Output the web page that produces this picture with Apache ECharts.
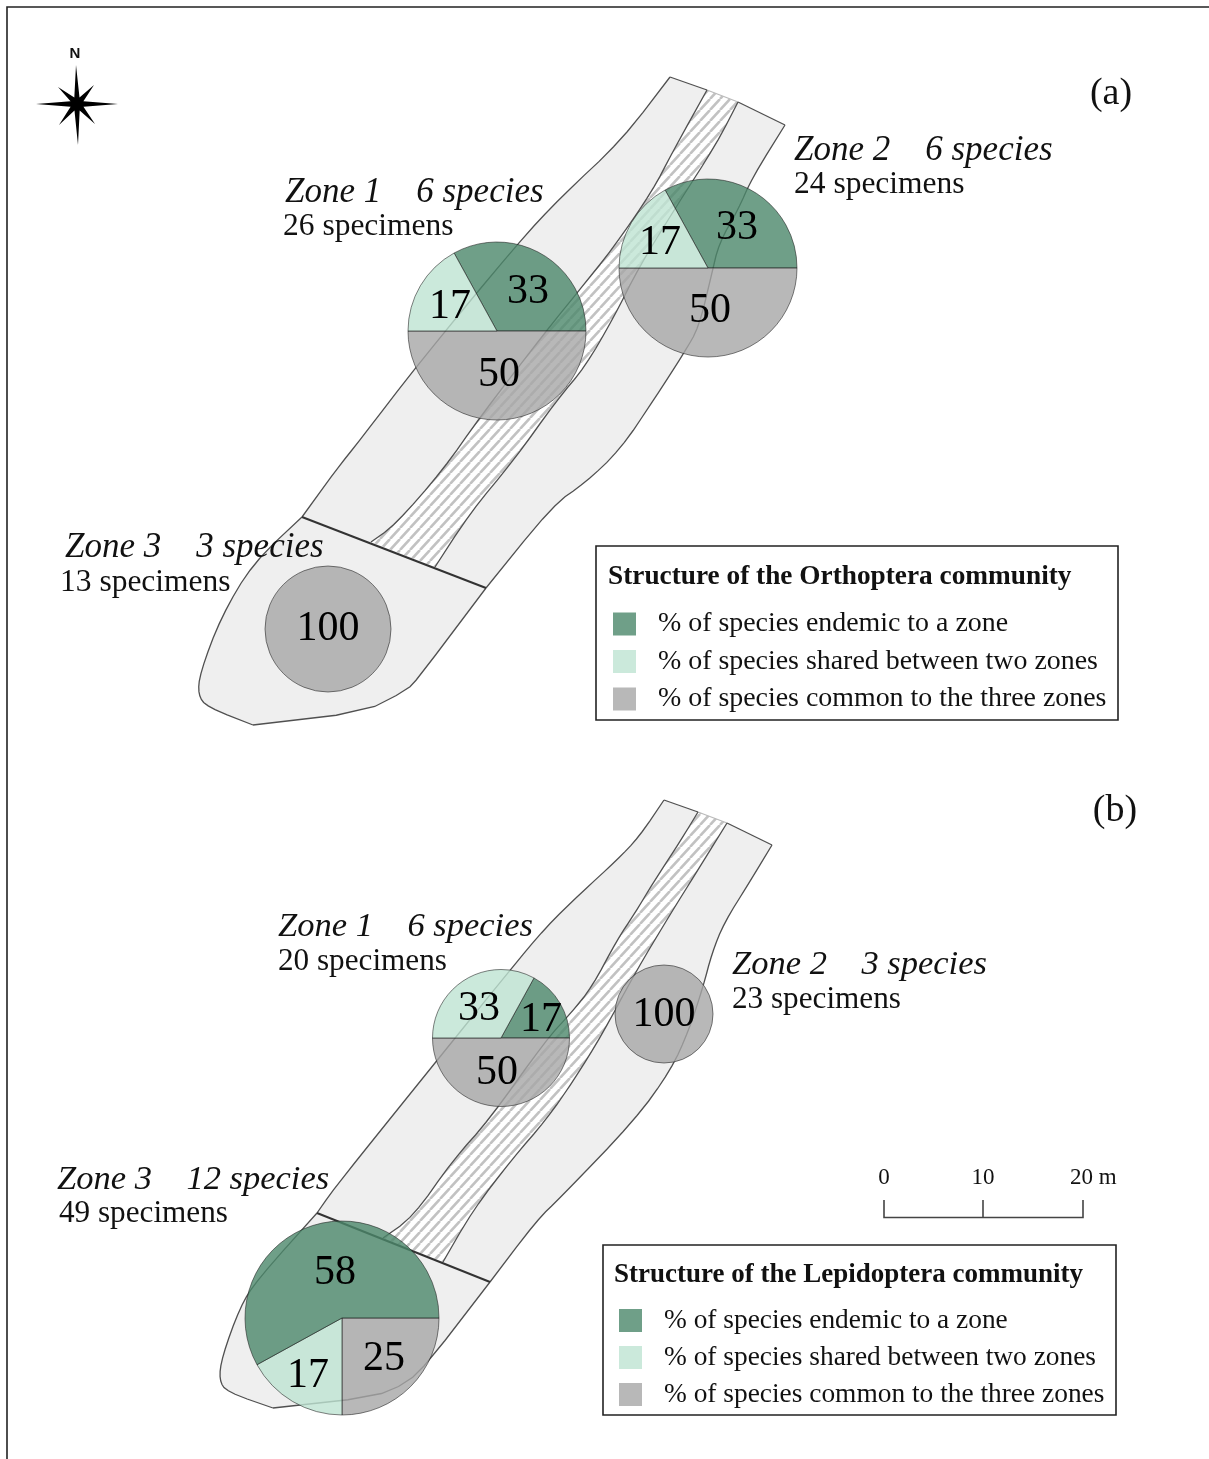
<!DOCTYPE html>
<html><head><meta charset="utf-8">
<style>html,body{margin:0;padding:0;background:#fff}#c{width:1209px;height:1459px}</style>
<script src="https://cdn.jsdelivr.net/npm/echarts@6/dist/echarts.min.js"></script>
</head><body><div id="c"></div>
<script>
// ---------- data ----------
const categoryEndemic = '% of species endemic to a zone';
const categoryShared = '% of species shared between two zones';
const categoryCommon = '% of species common to the three zones';
const legendCategories = [categoryEndemic, categoryShared, categoryCommon];

const orthopteraZone1 = [33, 50, 17];
const orthopteraZone2 = [33, 50, 17];
const orthopteraZone3 = [100];
const lepidopteraZone1 = [17, 50, 33];
const lepidopteraZone2 = [100];
const lepidopteraZone3 = [25, 17, 58];

const orderEDC = [categoryEndemic, categoryCommon, categoryShared];
const orderC = [categoryCommon];
const orderCSE = [categoryCommon, categoryShared, categoryEndemic];

const orthopteraTitle = 'Structure of the Orthoptera community';
const lepidopteraTitle = 'Structure of the Lepidoptera community';
const scaleLabels = ['0', '10', '20 m'];

const zoneCaptions = [
  ['Zone 1    6 species', '26 specimens', 285, 192.5, 283, 226.5, 35, 31.5],
  ['Zone 2    6 species', '24 specimens', 794, 150.5, 794, 184.5, 35, 31.5],
  ['Zone 3    3 species', '13 specimens', 65, 547.5, 60, 582.5, 35, 31.5],
  ['Zone 1    6 species', '20 specimens', 278, 926.5, 278, 962, 34.5, 31.2],
  ['Zone 2    3 species', '23 specimens', 732, 965, 732, 1000, 34.5, 31.2],
  ['Zone 3    12 species', '49 specimens', 57, 1180, 59, 1214, 34.5, 31.2]
];

// ---------- styles ----------
const SERIF = '"Liberation Serif","Times New Roman",serif';
const colors = {};
colors[categoryEndemic] = '#4b876a';
colors[categoryShared] = '#bee4d2';
colors[categoryCommon] = '#a6a6a6';

// ---------- map geometry (background drawing) ----------
function chaikin(p, n) {
  for (let k = 0; k < n; k++) {
    const q = [p[0]];
    for (let i = 0; i < p.length - 1; i++) {
      const a = p[i], b = p[i + 1];
      if (i > 0) q.push([a[0] * .75 + b[0] * .25, a[1] * .75 + b[1] * .25]);
      if (i < p.length - 2) q.push([a[0] * .25 + b[0] * .75, a[1] * .25 + b[1] * .75]);
    }
    q.push(p[p.length - 1]);
    p = q;
  }
  return p;
}
const rev = a => a.slice().reverse();

const mapA = {
  left: [[670,77],[622,140],[561,197],[518,243],[419,363],[360,440],[336,470],[302,517]],
  head: [[302,517],[253,563],[221,617],[200,673],[198,695],[207,707],[253,725]],
  foot: [[253,725],[364,712],[407,690],[419,677],[486,588]],
  right: [[486,588],[553,505],[585,483],[620,450],[655,398],[684,353],[699,327],[711,277],[719,243],[738,210],[752,178],[785,125]],
  topL: [[670,77],[707,90]], topM: [[707,90],[738,102]], topR: [[738,102],[785,125]],
  stripeL: [[707,90],[672,153],[653,190],[614,247],[577,293],[547,330],[480,417],[443,470],[395,525],[371,542]],
  stripeR: [[738,102],[717,143],[676,207],[639,267],[614,317],[585,367],[557,400],[514,460],[470,513],[435,567]],
  sepA: [302,517], sepB: [486,588]
};
const mapB = {
  left: [[664,800],[639,837],[617,860],[581,893],[546,927],[510,970],[389,1120],[333,1190],[317,1213]],
  head: [[317,1213],[257,1280],[240,1307],[222,1357],[219,1380],[227,1392],[273,1408]],
  foot: [[273,1408],[373,1397],[407,1383],[430,1360],[490,1282]],
  right: [[490,1282],[537,1220],[560,1198],[635,1120],[671,1070],[689,1030],[703,987],[712,953],[724,923],[749,883],[772,845]],
  topL: [[664,800],[698,812]], topM: [[698,812],[727,823]], topR: [[727,823],[772,845]],
  stripeL: [[698,812],[681,840],[653,883],[635,913],[617,940],[592,987],[571,1013],[546,1040],[489,1120],[453,1160],[413,1217],[383,1238]],
  stripeR: [[727,823],[696,873],[671,913],[635,973],[603,1033],[574,1080],[546,1120],[513,1158],[473,1210],[443,1262]],
  sepA: [317,1213], sepB: [490,1282]
};

function hatchTile() {
  const w = 10, h = 11, c = document.createElement('canvas');
  c.width = w; c.height = h;
  const g = c.getContext('2d');
  g.fillStyle = '#ffffff'; g.fillRect(0, 0, w, h);
  g.strokeStyle = '#c2c2c2'; g.lineWidth = 2.6;
  [-w, 0, w].forEach(o => {
    g.beginPath(); g.moveTo(o, h); g.lineTo(o + w, 0); g.stroke();
  });
  return c;
}
const hatch = { image: hatchTile(), repeat: 'repeat' };

function poly(points, style, z) {
  return { type: 'polygon', z: z || 0, silent: true, shape: { points }, style };
}
function line(points, style, z) {
  return { type: 'polyline', z: z || 1, silent: true, shape: { points },
    style: Object.assign({ fill: null, stroke: '#505050', lineWidth: 1.3 }, style) };
}
function mapGraphics(m) {
  const L = chaikin(m.left, 2), H = chaikin(m.head, 2), F = chaikin(m.foot, 1), R = chaikin(m.right, 2);
  const SL = chaikin(m.stripeL, 2), SR = chaikin(m.stripeR, 2);
  const outline = [].concat(L, H, F, R, rev(m.topR), rev(m.topM), rev(m.topL));
  const hatchPoly = [].concat(SL, rev(SR));
  return [
    poly(outline, { fill: '#efefef', stroke: null }, 0),
    poly(hatchPoly, { fill: hatch, stroke: null }, 1),
    line(L), line(H), line(F), line(R),
    line(m.topL), line(m.topR), line(m.topM, { stroke: '#bbb' }),
    line(SL), line(SR),
    line([m.sepA, m.sepB], { stroke: '#333', lineWidth: 2 }, 2)
  ];
}

// ---------- compass ----------
function compass(cx, cy) {
  const pts = [];
  const long = [[-1, -39], [41, 0], [1, 41], [-41, 0]];
  const short = [[17, -19], [18, 20], [-18, 21], [-19, -17]];
  for (let i = 0; i < 4; i++) {
    pts.push(long[i]);
    const a = Math.atan2(long[i][1], long[i][0]) + Math.PI / 8;
    pts.push([Math.cos(a) * 7, Math.sin(a) * 7]);
    pts.push(short[i]);
    const b = a + Math.PI / 4;
    pts.push([Math.cos(b) * 7, Math.sin(b) * 7]);
  }
  return poly(pts.map(p => [cx + p[0], cy + p[1]]), { fill: '#000', stroke: null }, 3);
}

// ---------- text helper ----------
function txt(text, x, y, font, align) {
  return { type: 'text', z: 20, silent: true, x, y,
    style: { text, font, fill: '#111', align: align || 'left', verticalAlign: 'middle',
      textAlign: align || 'left', textVerticalAlign: 'middle' } };
}
function rectFrame(x, y, w, h) {
  return { type: 'rect', z: 3, silent: true, shape: { x, y, width: w, height: h },
    style: { fill: '#fff', stroke: '#222', lineWidth: 1.6 } };
}

// ---------- graphics ----------
const graphics = [];
graphics.push(line([[7, 1459], [7, 7], [1209, 7]], { stroke: '#222', lineWidth: 1.6 }));
graphics.push(...mapGraphics(mapA), ...mapGraphics(mapB));
graphics.push(compass(77, 104));
graphics.push(txt('N', 75, 54, 'bold 15px "Liberation Sans",Arial,sans-serif', 'center'));
graphics.push(txt('(a)', 1111, 94, '38px ' + SERIF, 'center'));
graphics.push(txt('(b)', 1115, 811, '38px ' + SERIF, 'center'));
zoneCaptions.forEach(c => {
  graphics.push(txt(c[0], c[2], c[3], 'italic ' + c[6] + 'px ' + SERIF));
  graphics.push(txt(c[1], c[4], c[5], c[7] + 'px ' + SERIF));
});
graphics.push(rectFrame(596, 546, 522, 174), rectFrame(603, 1245, 513, 170));
graphics.push(txt(orthopteraTitle, 608, 577, 'bold 27.3px ' + SERIF));
graphics.push(txt(lepidopteraTitle, 614, 1275, 'bold 27px ' + SERIF));
graphics.push(line([[884, 1200], [884, 1217.5], [1083, 1217.5], [1083, 1200]], { stroke: '#444', lineWidth: 1.6 }, 5));
graphics.push(line([[983, 1200], [983, 1217.5]], { stroke: '#444', lineWidth: 1.6 }, 5));
graphics.push(txt(scaleLabels[0], 884, 1178, '23px ' + SERIF, 'center'));
graphics.push(txt(scaleLabels[1], 983, 1178, '23px ' + SERIF, 'center'));
graphics.push(txt(scaleLabels[2], 1070, 1178, '23px ' + SERIF));

// ---------- pies ----------
function pie(name, values, order, center, r, startAngle, labelPos) {
  return {
    type: 'pie', name, silent: true, animation: false, clockwise: true, z: 6,
    center, radius: [0, r], startAngle, minAngle: 0,
    avoidLabelOverlap: false, stillShowZeroSum: false,
    itemStyle: { opacity: .8, borderColor: 'rgba(30,30,30,.7)', borderWidth: 1 },
    emphasis: { disabled: true },
    labelLine: { show: false },
    label: { show: true, position: 'inner', formatter: '{c}', color: '#000', opacity: 1,
      fontFamily: SERIF, fontSize: 42, fontWeight: 'normal' },
    labelLayout: p => ({ x: labelPos[p.dataIndex][0], y: labelPos[p.dataIndex][1] }),
    data: values.map((v, i) => ({ name: order[i], value: v, itemStyle: { color: colors[order[i]] } }))
  };
}
const series = [
  pie('Orthoptera Zone 1', orthopteraZone1, orderEDC, [497, 331], 89, 118.8, [[528, 292], [499, 375], [450, 307]]),
  pie('Orthoptera Zone 2', orthopteraZone2, orderEDC, [708, 268], 89, 118.8, [[737, 228], [710, 311], [660, 243]]),
  pie('Orthoptera Zone 3', orthopteraZone3, orderC, [328, 629], 63, 90, [[328, 629]]),
  pie('Lepidoptera Zone 1', lepidopteraZone1, orderEDC, [501, 1038], 68.5, 61.2, [[541, 1020], [497, 1073], [479, 1009]]),
  pie('Lepidoptera Zone 2', lepidopteraZone2, orderC, [664, 1014], 49, 90, [[664, 1015]]),
  pie('Lepidoptera Zone 3', lepidopteraZone3, orderCSE, [342, 1318], 97, 0, [[384, 1359], [308, 1376], [335, 1273]])
];

function legend(left, top, gap, size) {
  return {
    data: legendCategories, orient: 'vertical', left, top, padding: 0, z: 8,
    itemWidth: 23, itemHeight: 23, itemGap: gap, selectedMode: false,
    icon: 'rect',
    itemStyle: { borderWidth: 0 },
    textStyle: { fontFamily: SERIF, fontSize: size, color: '#111', lineHeight: 23, padding: [0, 0, 0, 17] }
  };
}

const chart = echarts.init(document.getElementById('c'), null, { renderer: 'canvas' });
chart.setOption({
  animation: false,
  backgroundColor: '#fff',
  legend: [legend(613, 610, 9.5, 27.9), legend(619, 1307, 10, 27.4)],
  graphic: { elements: graphics },
  series
});
</script></body></html>
